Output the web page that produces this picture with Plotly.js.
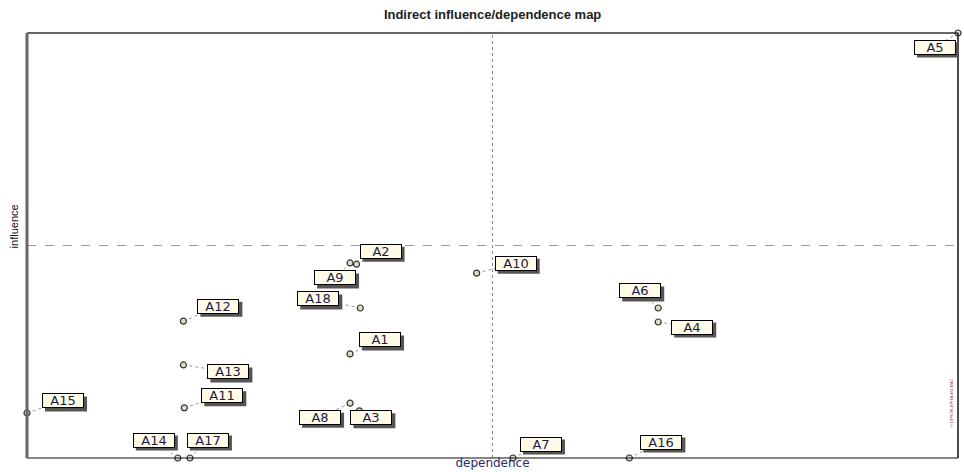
<!DOCTYPE html>
<html>
<head>
<meta charset="utf-8">
<script src="https://cdn.plot.ly/plotly-3.0.1.min.js"></script>
<style>html,body{margin:0;padding:0;background:#fff;} #chart{width:964px;height:472px;}</style>
</head>
<body>
<div id="chart"></div>
<script>
// Variables
const labels = ["A1","A2","A3","A4","A5","A6","A7","A8","A9","A10","A11","A12","A13","A14","A15","A16","A17","A18"];
// Indirect dependence (x) and influence (y), on a 0-100 scale of the map
const dependence = [34.7, 35.4, 35.7, 67.8, 100, 67.8, 52.2, 34.7, 34.7, 48.3, 16.9, 16.8, 16.8, 16.2, 0, 64.7, 17.5, 35.8];
const influence  = [24.5, 45.6, 11.1, 32.0, 100, 35.3, 0, 12.9, 45.9, 43.5, 11.8, 32.2, 21.9, 0, 10.6, 0, 0, 35.3];
const meanDependence = 50;
const meanInfluence = 50;

// label offsets in pixels (dx right, dy down)
const offX = [30, 24, 12, 34, -23, -18, 28, -30, -15, 39, 38, 35, 45, -24, 36, 32, 18, -42];
const offY = [-14, -13, 7, 5, 14, -17, -14, 14, 15, -10, -12, -15, 7, -18, -12, -16, -18, -9];

const BW = 42, BH = 15, SH = 3;
const shapes = [];
const annotations = [];
// quadrant lines
shapes.push({type:'line', xref:'x', yref:'paper', x0:meanDependence, x1:meanDependence, y0:0, y1:1, line:{color:'#888', width:1, dash:'dot'}, layer:'below'});
shapes.push({type:'line', xref:'paper', yref:'y', x0:0, x1:1, y0:meanInfluence, y1:meanInfluence, line:{color:'#999', width:1, dash:'dash'}, layer:'below'});
// frame
shapes.push({type:'line', xref:'paper', yref:'paper', x0:0, x1:1, y0:1, y1:1, line:{color:'#333', width:1.5}});
shapes.push({type:'line', xref:'paper', yref:'paper', x0:1, x1:1, y0:0, y1:1, line:{color:'#111', width:1.5}});
shapes.push({type:'line', xref:'paper', yref:'paper', x0:0, x1:1, y0:0, y1:0, line:{color:'#111', width:1.2}});
shapes.push({type:'line', xref:'paper', yref:'paper', x0:0, x1:0, y0:0, y1:1, line:{color:'#666', width:3}});

for (let i = 0; i < labels.length; i++) {
  // dotted connector
  shapes.push({type:'line', xref:'x', yref:'y', xsizemode:'pixel', ysizemode:'pixel',
    xanchor: dependence[i], yanchor: influence[i], x0:0, y0:0, x1: offX[i], y1: -offY[i],
    line:{color:'#999', width:1, dash:'dot'}, layer:'below'});
  // box shadow
  shapes.push({type:'rect', xref:'x', yref:'y', xsizemode:'pixel', ysizemode:'pixel',
    xanchor: dependence[i], yanchor: influence[i],
    x0: offX[i] - BW/2 + SH, x1: offX[i] + BW/2 + SH,
    y0: -offY[i] - BH/2 - SH, y1: -offY[i] + BH/2 - SH,
    fillcolor:'#555', line:{width:0}, layer:'above'});
  annotations.push({x: dependence[i], y: influence[i], xref:'x', yref:'y', text: labels[i], showarrow:false,
    xshift: offX[i], yshift: -offY[i], bgcolor:'#fffbe6', bordercolor:'#000', borderwidth:1,
    width: BW - 2, height: BH - 2, borderpad: 0,
    font:{family:'DejaVu Sans, Arial', size:13, color:'#1a1a4a'}});
}
annotations.push({xref:'paper', yref:'paper', x:1, y:0.13, xshift:-2, text:'© LIPSOR-EPITA-MICMAC', textangle:-90, showarrow:false,
  font:{family:'Liberation Sans, Arial', size:4, color:'#8a4a4a'}, xanchor:'right', yanchor:'middle'});
annotations.push({xref:'paper', yref:'paper', x:0, y:0.545, xshift:-13, text:'influence', textangle:-90, showarrow:false,
  font:{family:'Liberation Sans Narrow, Liberation Sans', size:11, color:'#111'}, xanchor:'center', yanchor:'middle'});

const trace = {
  type:'scatter', mode:'markers', x: dependence, y: influence, text: labels,
  cliponaxis:false, hoverinfo:'text',
  marker:{symbol:'circle', size:6, color:'#dcdcc8', line:{color:'#333', width:1.2}}
};

const layout = {
  width:964, height:472,
  margin:{l:27, r:6, t:33, b:14},
  paper_bgcolor:'#fff', plot_bgcolor:'#fff',
  showlegend:false,
  title:{text:'<b>Indirect influence/dependence map</b>', x:0.511, xanchor:'center', y:0.97, yanchor:'middle',
    font:{family:'Liberation Sans, Arial', size:13, color:'#222'}},
  xaxis:{range:[0,100], showgrid:false, zeroline:false, showticklabels:false, ticks:'', showline:false, fixedrange:true,
    title:{text:'dependence', standoff:0, font:{family:'DejaVu Sans', size:12, color:'#2a2a6a'}}},
  yaxis:{range:[0,100], showgrid:false, zeroline:false, showticklabels:false, ticks:'', showline:false, fixedrange:true},
  shapes: shapes,
  annotations: annotations
};

Plotly.newPlot('chart', [trace], layout, {displayModeBar:false, staticPlot:true});
</script>
</body>
</html>
